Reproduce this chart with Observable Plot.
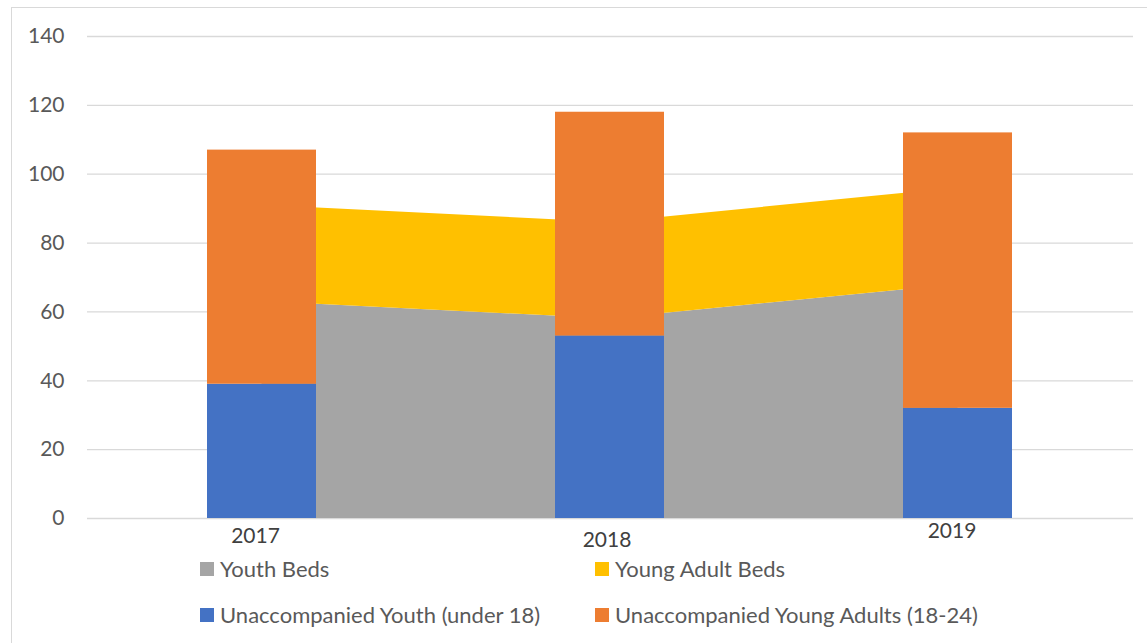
<!DOCTYPE html>
<html><head><meta charset="utf-8">
<script src="https://cdn.jsdelivr.net/npm/d3@7"></script>
<script src="https://cdn.jsdelivr.net/npm/@observablehq/plot@0.6"></script>
<style>
body{margin:0;background:#fff;font-family:Lato,"Open Sans",sans-serif;}
#wrap{position:relative;width:1147px;height:643px;overflow:hidden;background:#fff;}
#frame{position:absolute;left:11px;top:7px;width:1200px;height:700px;border-left:1.3px solid #D9D9D9;border-top:1.3px solid #D9D9D9;}
#chart{position:absolute;left:0;top:0;}
.item{position:absolute;font-size:22px;color:#595959;display:flex;align-items:center;white-space:nowrap;line-height:1;}
.sw{width:14px;height:14px;margin-right:6px;flex:none;}
</style></head><body>
<div id="wrap"><div id="frame"></div><div id="chart"></div><div id="legend"></div></div>
<script>
const years = ["2017", "2018", "2019"];
const youthBeds = [63, 58, 68];
const youngAdultBeds = [28, 28, 28];
const unaccompaniedYouth = [39, 53, 32];
const unaccompaniedYoungAdults = [68, 65, 80];
const yTicks = [0, 20, 40, 60, 80, 100, 120, 140];
const seriesNames = ["Youth Beds", "Young Adult Beds", "Unaccompanied Youth (under 18)", "Unaccompanied Young Adults (18-24)"];
const seriesColors = ["#A5A5A5", "#FFC000", "#4472C4", "#ED7D31"];

const areaRows = years.flatMap((year, i) => [
  {year, series: seriesNames[0], value: youthBeds[i]},
  {year, series: seriesNames[1], value: youngAdultBeds[i]}
]);
const barRows = years.flatMap((year, i) => [
  {year, series: seriesNames[2], value: unaccompaniedYouth[i]},
  {year, series: seriesNames[3], value: unaccompaniedYoungAdults[i]}
]);

// small label nudges reproducing the source's offset year labels
const labelDx = [-6.5, -3, -6];
const labelDy = [18, 22, 13];

const chart = Plot.plot({
  width: 1147,
  height: 552,
  marginLeft: 87,
  marginRight: 14,
  marginTop: 36,
  marginBottom: 34,
  style: {fontFamily: "Lato, 'Open Sans', sans-serif", fontSize: "21px", color: "#595959", background: "transparent"},
  x: {type: "band", domain: years, paddingInner: 0.686, paddingOuter: 0.343, axis: null},
  y: {domain: [0, 140], axis: null},
  color: {domain: seriesNames, range: seriesColors},
  marks: [
    Plot.gridY(yTicks, {stroke: "#D9D9D9", strokeOpacity: 1, strokeWidth: 1.3}),
    Plot.areaY(areaRows, {x: "year", y: "value", z: "series", fill: "series", fillOpacity: 1}),
    Plot.barY(barRows, {x: "year", y: "value", z: "series", fill: "series"}),
    Plot.axisY(yTicks, {tickSize: 0, tickPadding: 23, fontSize: 21, fill: "#595959", label: null}),
    ...years.map((yr, i) => Plot.text([yr], {x: d => d, frameAnchor: "bottom", dx: labelDx[i], dy: labelDy[i], fontSize: 21, fill: "#404040", lineAnchor: "middle"}))
  ]
});
document.getElementById("chart").appendChild(chart);

const legend = document.getElementById("legend");
const lefts = [200, 595];
const tops = [558, 604];
seriesNames.forEach((name, i) => {
  const el = document.createElement("div");
  el.className = "item";
  el.style.left = lefts[i % 2] + "px";
  el.style.top = tops[Math.floor(i / 2)] + "px";
  el.innerHTML = `<span class="sw" style="background:${seriesColors[i]}"></span><span>${name}</span>`;
  legend.appendChild(el);
});
</script>
</body></html>
